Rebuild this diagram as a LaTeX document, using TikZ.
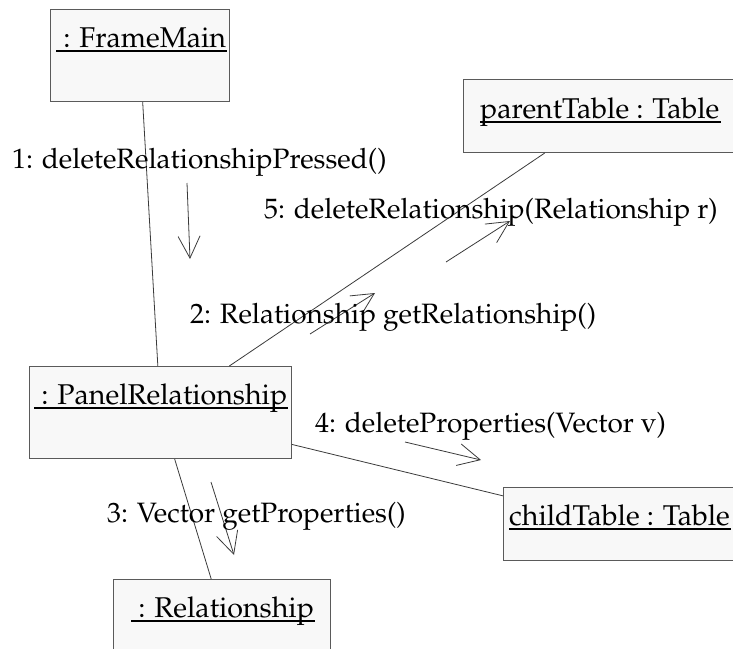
\documentclass[tikz,border=0pt]{standalone}
\usepackage[T1]{fontenc}
\usepackage{mathpazo}
\usetikzlibrary{arrows.meta,calc}
\definecolor{boxfill}{HTML}{F8F8F8}
\definecolor{boxline}{HTML}{5A5A5A}
\definecolor{wire}{HTML}{3A3A3A}
\begin{document}
\begin{tikzpicture}[x=1pt,y=-1pt,
  objbox/.style={draw=boxline, fill=boxfill, line width=1pt, inner sep=0pt, anchor=north west},
  objname/.style={anchor=base west, inner sep=0pt, font=\fontsize{28.6}{34}\selectfont},
  uline/.style={line width=2pt, black},
  link/.style={draw=wire, line width=0.8pt},
  msg/.style={draw=wire, line width=0.8pt, -{Straight Barb[length=22pt,width=22pt]}},
  msglabel/.style={anchor=base west, inner sep=0pt, font=\fontsize{28}{34}\selectfont}
]
\useasboundingbox (0,0) rectangle (733,648);

% object boxes
\node[objbox, minimum width=179pt, minimum height=92pt] (fm) at (50,9) {};
\node[objbox, minimum width=272pt, minimum height=73pt] (pt) at (463,79) {};
\node[objbox, minimum width=262pt, minimum height=92pt] (pr) at (29,366) {};
\node[objbox, minimum width=232pt, minimum height=73pt] (ct) at (503,487) {};
\node[objbox, minimum width=217pt, minimum height=70pt] (rl) at (113,579) {};

% object names
\node[objname] (fmt) at (56,47) {\ : FrameMain};
\node[objname] (ptt) at (480,118) {parentTable : Table};
\node[objname] (prt) at (34,404) {\ : PanelRelationship};
\node[objname] (ctt) at (509,525) {childTable : Table};
\node[objname] (rlt) at (131,617) {\ : Relationship};
\foreach \t in {fmt,ptt,prt,ctt,rlt}
  \draw[uline] ($(\t.base west)+(0,4)$) -- ($(\t.base east)+(1,4)$);

% links
\draw[link] (fm) -- (pr);
\draw[link] (pt) -- (pr);
\draw[link] (pr) -- (ct);
\draw[link] (pr) -- (rl);

% messages
\coordinate (m1a) at (187,183); \coordinate (m1b) at (190,259);
\coordinate (m5a) at (446,262); \coordinate (m5b) at (510,221);
\coordinate (m2a) at (310,334); \coordinate (m2b) at (375,293);
\coordinate (m4a) at (405,442); \coordinate (m4b) at (481,460);
\coordinate (m3a) at (211,482); \coordinate (m3b) at (234,555);
\draw[msg] (m1a) -- (m1b);
\draw[msg] (m5a) -- (m5b);
\draw[msg] (m2a) -- (m2b);
\draw[msg] (m4a) -- (m4b);
\draw[msg] (m3a) -- (m3b);

\node[msglabel] (l1) at (12,168) {1: deleteRelationshipPressed()};
\node[msglabel] (l5) at (264,218) {5: deleteRelationship(Relationship r)};
\node[msglabel] (l2) at (190,323) {2: Relationship getRelationship()};
\node[msglabel] (l4) at (315,432) {4: deleteProperties(Vector v)};
\node[msglabel] (l3) at (107,522) {3: Vector getProperties()};
\end{tikzpicture}
\end{document}
